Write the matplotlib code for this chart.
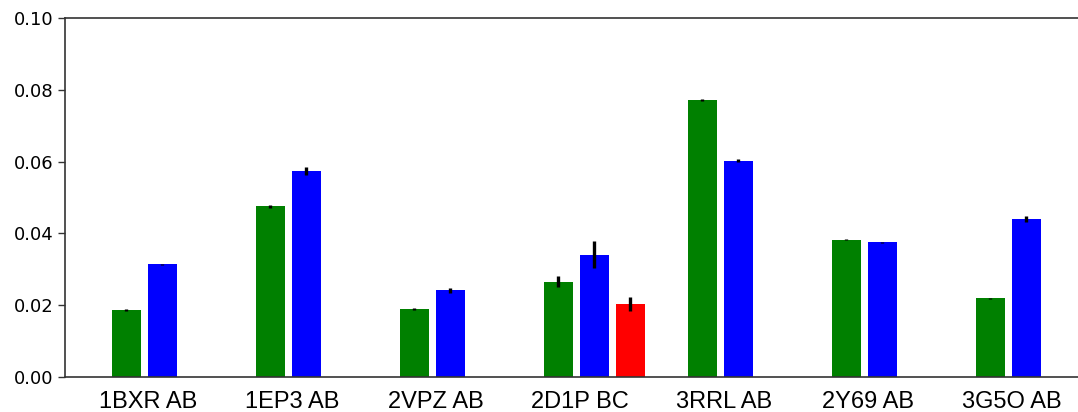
import numpy as np
import matplotlib.pyplot as plt

labels = ["1BXR AB", "1EP3 AB", "2VPZ AB", "2D1P BC", "3RRL AB", "2Y69 AB", "3G5O AB"]
green = [0.0187, 0.0476, 0.0190, 0.0265, 0.0772, 0.0383, 0.0219]
green_err = [0.0002, 0.0004, 0.0002, 0.0015, 0.0002, 0.0001, 0.0001]
blue = [0.0314, 0.0574, 0.0241, 0.0341, 0.0603, 0.0375, 0.0440]
blue_err = [0.0002, 0.0010, 0.0007, 0.0037, 0.0003, 0.0001, 0.0009]
red_idx = [3]
red = [0.0203]
red_err = [0.0019]

ind = np.arange(len(labels))
w = 0.2
step = 0.25

fig = plt.figure(figsize=(10.78, 4.12), dpi=100)
x0, x1 = -0.427, 6.927
ax = fig.add_axes([65 / 1078, 1 - 377 / 412, (x1 - x0) * 144 / 1078, (377 - 18) / 412])

ekw = dict(elinewidth=2.4, ecolor="black", capsize=0)
ax.bar(ind, green, w, yerr=green_err, color="green", error_kw=ekw)
ax.bar(ind + step, blue, w, yerr=blue_err, color="blue", error_kw=ekw)
ax.bar(np.array(red_idx) + 2 * step, red, w, yerr=red_err, color="red", error_kw=ekw)

ax.set_xlim(x0, x1)
ax.set_ylim(0, 0.10)
ax.set_yticks(np.arange(0, 0.101, 0.02))
ax.set_yticklabels([f"{v:.2f}" for v in np.arange(0, 0.101, 0.02)], fontsize=13)
ax.set_xticks(ind + 0.15)
ax.set_xticklabels(labels, fontsize=17, family="Liberation Sans")
ax.tick_params(axis="x", length=0, pad=10)
ax.tick_params(axis="y", length=5, width=1, colors="#333333", labelcolor="black")

for spine in ax.spines.values():
    spine.set_color("#333333")
    spine.set_linewidth(1.2)

fig.savefig("out.png", dpi=100)
